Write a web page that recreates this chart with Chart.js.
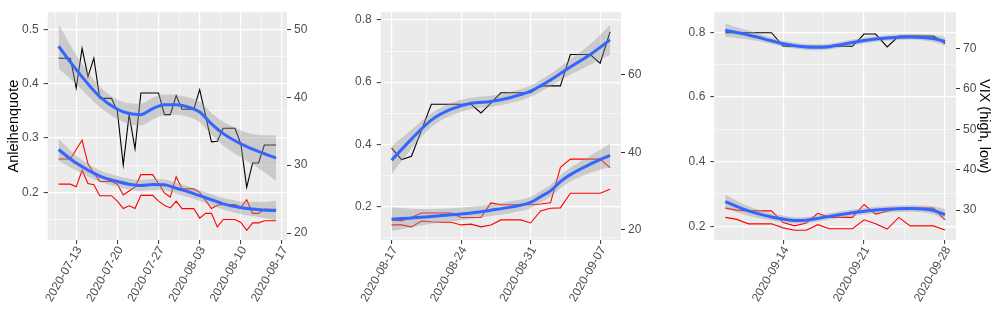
<!DOCTYPE html>
<html>
<head>
<meta charset="utf-8">
<script src="https://cdn.jsdelivr.net/npm/chart.js@4.4.1/dist/chart.umd.min.js"></script>
<style>
  html, body { margin: 0; padding: 0; background: #fff; }
  #wrap { position: relative; width: 1000px; height: 330px; overflow: hidden; }
  canvas { position: absolute; top: 0; }
</style>
</head>
<body>
<div id="wrap">
  <canvas id="p1" width="330" height="330" style="left:0"></canvas>
  <canvas id="p2" width="330" height="330" style="left:330px"></canvas>
  <canvas id="p3" width="340" height="330" style="left:660px"></canvas>
</div>
<script>
// ---- data: daily Anleihenquote (left axis) and VIX high / low (right axis)
const p1Dates = ['2020-07-10','2020-07-11','2020-07-12','2020-07-13','2020-07-14','2020-07-15','2020-07-16','2020-07-17','2020-07-18','2020-07-19',
  '2020-07-20','2020-07-21','2020-07-22','2020-07-23','2020-07-24','2020-07-25','2020-07-26','2020-07-27','2020-07-28','2020-07-29',
  '2020-07-30','2020-07-31','2020-08-01','2020-08-02','2020-08-03','2020-08-04','2020-08-05','2020-08-06','2020-08-07','2020-08-08',
  '2020-08-09','2020-08-10','2020-08-11','2020-08-12','2020-08-13','2020-08-14','2020-08-15','2020-08-16'];
const p1Quote = [0.447,0.447,0.447,0.392,0.465,0.413,0.447,0.373,0.373,0.373,
  0.349,0.250,0.343,0.280,0.383,0.383,0.383,0.383,0.343,0.343,
  0.378,0.353,0.353,0.353,0.389,0.341,0.293,0.294,0.318,0.318,
  0.318,0.289,0.209,0.254,0.254,0.287,0.287,0.287];
const p1VixHigh = [30.9,30.9,30.9,32.3,33.7,30.2,28.8,27.6,27.6,27.6,
  27.2,25.6,26.2,26.8,28.6,28.6,28.6,27.3,25.9,25.3,
  28.3,26.5,26.5,26.5,26.0,24.8,23.6,24.1,24.2,24.2,
  24.2,23.8,24.9,22.9,22.9,23.5,23.5,23.5];
const p1VixLow = [27.2,27.2,27.2,26.8,29.25,27.3,27.1,25.5,25.5,25.5,
  24.7,23.6,24.0,23.6,25.55,25.55,25.55,24.7,24.1,23.7,
  24.7,23.6,23.6,23.6,22.2,22.9,22.9,20.9,22.0,22.0,
  22.0,21.55,20.4,21.5,21.5,21.8,21.8,21.8];

const p2Dates = ['2020-08-17','2020-08-18','2020-08-19','2020-08-20','2020-08-21','2020-08-22','2020-08-23','2020-08-24','2020-08-25','2020-08-26',
  '2020-08-27','2020-08-28','2020-08-29','2020-08-30','2020-08-31','2020-09-01','2020-09-02','2020-09-03','2020-09-04','2020-09-05',
  '2020-09-06','2020-09-07','2020-09-08'];
const p2Quote = [0.388,0.351,0.362,0.445,0.529,0.529,0.529,0.529,0.529,0.501,
  0.533,0.566,0.566,0.566,0.566,0.588,0.588,0.588,0.689,0.689,
  0.689,0.661,0.762];
const p2VixHigh = [22.4,22.3,23.1,24.3,24.3,24.3,24.3,23.1,23.1,23.1,
  26.9,26.4,26.4,26.4,26.4,26.6,26.9,36.1,38.2,38.2,
  38.2,38.2,36.0];
const p2VixLow = [21.2,21.2,20.7,22.2,22.0,21.9,21.9,21.2,21.4,20.7,
  21.2,22.5,22.5,22.5,21.7,24.8,25.5,25.6,29.4,29.4,
  29.4,29.4,30.4];

const p3Dates = ['2020-09-09','2020-09-10','2020-09-11','2020-09-12','2020-09-13','2020-09-14','2020-09-15','2020-09-16','2020-09-17','2020-09-18',
  '2020-09-19','2020-09-20','2020-09-21','2020-09-22','2020-09-23','2020-09-24','2020-09-25','2020-09-26','2020-09-27','2020-09-28'];
const p3Quote = [0.799,0.799,0.799,0.799,0.799,0.757,0.757,0.757,0.757,0.757,
  0.757,0.757,0.795,0.795,0.755,0.789,0.789,0.789,0.789,0.766];
const p3VixHigh = [30.5,30.0,29.8,29.8,29.8,26.9,26.1,26.8,29.2,28.2,
  28.2,28.2,31.4,29.0,29.7,30.5,30.5,30.5,30.5,27.6];
const p3VixLow = [28.2,27.7,26.6,26.6,26.6,25.6,25.0,25.0,26.4,25.4,
  25.4,25.4,27.6,26.6,25.3,28.2,26.1,26.1,26.1,25.1];

// ---- loess fits with standard-error half widths
const p1FitDates = ['2020-07-10','2020-07-13','2020-07-17','2020-07-20','2020-07-22','2020-07-24','2020-07-26','2020-07-28','2020-07-30',
  '2020-08-01','2020-08-03','2020-08-05','2020-08-07','2020-08-09','2020-08-11','2020-08-14','2020-08-16'];
const p1FitQuote = [0.469,0.426,0.376,0.353,0.345,0.343,0.354,0.361,0.361,0.357,0.348,0.326,0.308,0.295,0.284,0.271,0.263];
const p1FitQuoteSe = [0.041,0.027,0.019,0.018,0.019,0.020,0.020,0.019,0.018,0.018,0.019,0.020,0.022,0.024,0.026,0.034,0.042];
const p1FitVix = [32.3,30.3,28.4,27.6,27.2,27.0,27.15,27.1,26.6,26.1,25.5,24.9,24.3,23.9,23.6,23.4,23.3];
const p1FitVixSe = [1.6,1.1,0.85,0.8,0.8,0.8,0.8,0.8,0.8,0.8,0.8,0.8,0.85,0.9,1.0,1.2,1.5];

const p2FitDates = ['2020-08-17','2020-08-19','2020-08-21','2020-08-23','2020-08-25','2020-08-27','2020-08-29','2020-08-31',
  '2020-09-01','2020-09-02','2020-09-03','2020-09-04','2020-09-06','2020-09-08'];
const p2FitQuote = [0.349,0.417,0.478,0.513,0.532,0.538,0.551,0.571,0.588,0.607,0.628,0.649,0.689,0.736];
const p2FitQuoteSe = [0.045,0.030,0.022,0.020,0.018,0.018,0.018,0.018,0.019,0.020,0.022,0.025,0.033,0.048];
const p2FitVix = [22.7,23.0,23.4,23.8,24.3,25.0,25.8,27.0,28.5,30.0,32.4,34.2,36.9,39.2];
const p2FitVixSe = [3.1,2.4,1.9,1.7,1.6,1.5,1.5,1.5,1.5,1.6,1.7,1.8,2.2,3.0];

const p3FitDates = ['2020-09-09','2020-09-11','2020-09-13','2020-09-14','2020-09-15','2020-09-16','2020-09-17','2020-09-18',
  '2020-09-19','2020-09-21','2020-09-23','2020-09-25','2020-09-27','2020-09-28'];
const p3FitQuote = [0.807,0.792,0.774,0.765,0.759,0.755,0.754,0.756,0.762,0.775,0.783,0.786,0.781,0.772];
const p3FitQuoteSe = [0.020,0.014,0.010,0.009,0.009,0.009,0.009,0.009,0.009,0.009,0.009,0.009,0.011,0.014];
const p3FitVix = [32.1,29.8,28.3,27.8,27.45,27.5,27.95,28.45,28.9,29.7,30.2,30.4,29.9,28.9];
const p3FitVixSe = [1.7,1.2,0.9,0.85,0.8,0.8,0.8,0.8,0.8,0.8,0.8,0.8,1.0,1.3];

// ---- tick labels
const p1DateTicks = ['2020-07-13','2020-07-20','2020-07-27','2020-08-03','2020-08-10','2020-08-17'];
const p2DateTicks = ['2020-08-17','2020-08-24','2020-08-31','2020-09-07'];
const p3DateTicks = ['2020-09-14','2020-09-21','2020-09-28'];
const p1QuoteTicks = [0.2, 0.3, 0.4, 0.5];
const p2QuoteTicks = [0.2, 0.4, 0.6, 0.8];
const p3QuoteTicks = [0.2, 0.4, 0.6, 0.8];
const p1VixTicks = [20, 30, 40, 50];
const p2VixTicks = [20, 40, 60];
const p3VixTicks = [30, 40, 50, 60, 70];

// ---- helpers
const FONT = "'Liberation Sans', Arial, Helvetica, sans-serif";
const DAY = 86400000;
const toDay = s => Date.UTC(+s.slice(0, 4), +s.slice(5, 7) - 1, +s.slice(8, 10)) / DAY;
const fmtDay = d => new Date(Math.round(d) * DAY).toISOString().slice(0, 10);
const pts = (dates, vals) => dates.map((d, i) => ({ x: toDay(d), y: vals[i] }));
const edge = (dates, fit, se, sign) => dates.map((d, i) => ({ x: toDay(d), y: fit[i] + sign * se[i] }));

// major ticks plus the ggplot-style minor ticks halfway between them
function withMinor(major, min, max) {
  const step = major[1] - major[0];
  const out = [];
  major.forEach(v => {
    if (v - step / 2 >= min) out.push({ value: v - step / 2, minor: true });
    out.push({ value: v });
  });
  const last = major[major.length - 1] + step / 2;
  if (last <= max) out.push({ value: last, minor: true });
  return out;
}

const isMinor = c => !!(c.tick && c.tick.minor);
const gridMain = {
  color: '#FFFFFF',
  lineWidth: c => isMinor(c) ? 0.55 : 1.2,
  tickColor: c => isMinor(c) ? 'rgba(0,0,0,0)' : '#333333',
  tickWidth: 1,
  tickLength: 4
};
const tickFont = { family: FONT, size: 12 };
const titleFont = { family: FONT, size: 14.5 };

const panelBg = {
  id: 'panelBg',
  beforeDraw(chart) {
    const { ctx, chartArea: a } = chart;
    ctx.save();
    ctx.fillStyle = '#EBEBEB';
    ctx.fillRect(a.left, a.top, a.right - a.left, a.bottom - a.top);
    ctx.restore();
  }
};

function drawPanel(id, p) {
  const xMin = toDay(p.dates[0]), xMax = toDay(p.dates[p.dates.length - 1]);
  const pad = (xMax - xMin) * 0.05;
  const band = 'rgba(153,153,153,0.4)';
  const none = 'rgba(0,0,0,0)';

  new Chart(document.getElementById(id), {
    type: 'line',
    data: {
      datasets: [
        // fitted curves on top
        { data: pts(p.fitDates, p.fitQuote), yAxisID: 'y', borderColor: '#3366FF', borderWidth: 3, cubicInterpolationMode: 'monotone' },
        { data: pts(p.fitDates, p.fitVix), yAxisID: 'y2', borderColor: '#3366FF', borderWidth: 3, cubicInterpolationMode: 'monotone' },
        // confidence bands
        { data: edge(p.fitDates, p.fitQuote, p.fitQuoteSe, 1), yAxisID: 'y', borderColor: none, borderWidth: 0, cubicInterpolationMode: 'monotone', fill: false },
        { data: edge(p.fitDates, p.fitQuote, p.fitQuoteSe, -1), yAxisID: 'y', borderColor: none, borderWidth: 0, cubicInterpolationMode: 'monotone', fill: '-1', backgroundColor: band },
        { data: edge(p.fitDates, p.fitVix, p.fitVixSe, 1), yAxisID: 'y2', borderColor: none, borderWidth: 0, cubicInterpolationMode: 'monotone', fill: false },
        { data: edge(p.fitDates, p.fitVix, p.fitVixSe, -1), yAxisID: 'y2', borderColor: none, borderWidth: 0, cubicInterpolationMode: 'monotone', fill: '-1', backgroundColor: band },
        // raw series
        { data: pts(p.dates, p.quote), yAxisID: 'y', borderColor: '#000000', borderWidth: 1.1 },
        { data: pts(p.dates, p.vixHigh), yAxisID: 'y2', borderColor: '#FF0000', borderWidth: 1.1 },
        { data: pts(p.dates, p.vixLow), yAxisID: 'y2', borderColor: '#FF0000', borderWidth: 1.1 }
      ]
    },
    options: {
      responsive: false,
      animation: false,
      events: [],
      layout: { padding: { top: 7, left: 0, right: 0, bottom: 0 } },
      elements: { point: { radius: 0 }, line: { tension: 0, fill: false } },
      plugins: { legend: { display: false }, tooltip: { enabled: false } },
      scales: {
        x: {
          type: 'linear',
          min: xMin - pad,
          max: xMax + pad,
          afterBuildTicks: s => {
            s.ticks = withMinor(p.dateTicks.map(toDay), xMin - pad, xMax + pad);
          },
          afterFit: s => { s.height = 90; },
          grid: gridMain,
          border: { display: false },
          ticks: {
            autoSkip: false,
            minRotation: 60,
            maxRotation: 60,
            padding: 0,
            labelOffset: 3,
            color: '#4D4D4D',
            font: tickFont,
            callback: (v, i, t) => t[i].minor ? '' : fmtDay(v)
          }
        },
        y: {
          type: 'linear',
          position: 'left',
          min: p.yMin,
          max: p.yMax,
          afterBuildTicks: s => { s.ticks = withMinor(p.quoteTicks, p.yMin, p.yMax); },
          afterFit: s => { s.width = p.leftWidth; },
          grid: gridMain,
          border: { display: false },
          ticks: {
            autoSkip: false,
            padding: 5,
            color: '#4D4D4D',
            font: tickFont,
            callback: (v, i, t) => t[i].minor ? '' : v.toFixed(1)
          },
          title: {
            display: !!p.leftTitle,
            text: p.leftTitle || '',
            color: '#000000',
            font: titleFont,
            padding: { top: 5, bottom: 0 }
          }
        },
        y2: {
          type: 'linear',
          position: 'right',
          min: p.vMin,
          max: p.vMax,
          afterBuildTicks: s => { s.ticks = p.vixTicks.map(v => ({ value: v })); },
          afterFit: s => { s.width = p.rightWidth; },
          grid: { drawOnChartArea: false, tickColor: '#333333', tickWidth: 1, tickLength: 4 },
          border: { display: false },
          ticks: {
            autoSkip: false,
            padding: 3,
            color: '#4D4D4D',
            font: tickFont,
            callback: v => String(v)
          },
          title: {
            display: !!p.rightTitle,
            text: p.rightTitle || '',
            color: '#000000',
            font: titleFont,
            padding: { top: 7, bottom: 0 }
          }
        }
      }
    },
    plugins: [panelBg]
  });
}

drawPanel('p1', {
  dates: p1Dates, quote: p1Quote, vixHigh: p1VixHigh, vixLow: p1VixLow,
  fitDates: p1FitDates, fitQuote: p1FitQuote, fitQuoteSe: p1FitQuoteSe, fitVix: p1FitVix, fitVixSe: p1FitVixSe,
  dateTicks: p1DateTicks, quoteTicks: p1QuoteTicks, vixTicks: p1VixTicks,
  yMin: 0.1121, yMax: 0.5317, vMin: 18.97, vMax: 52.54,
  leftWidth: 47.7, rightWidth: 43, leftTitle: 'Anleihenquote'
});
drawPanel('p2', {
  dates: p2Dates, quote: p2Quote, vixHigh: p2VixHigh, vixLow: p2VixLow,
  fitDates: p2FitDates, fitQuote: p2FitQuote, fitQuoteSe: p2FitQuoteSe, fitVix: p2FitVix, fitVixSe: p2FitVixSe,
  dateTicks: p2DateTicks, quoteTicks: p2QuoteTicks, vixTicks: p2VixTicks,
  yMin: 0.0926, yMax: 0.825, vMin: 17.3, vMax: 76.2,
  leftWidth: 50.7, rightWidth: 39
});
drawPanel('p3', {
  dates: p3Dates, quote: p3Quote, vixHigh: p3VixHigh, vixLow: p3VixLow,
  fitDates: p3FitDates, fitQuote: p3FitQuote, fitQuoteSe: p3FitQuoteSe, fitVix: p3FitVix, fitVixSe: p3FitVixSe,
  dateTicks: p3DateTicks, quoteTicks: p3QuoteTicks, vixTicks: p3VixTicks,
  yMin: 0.1576, yMax: 0.8626, vMin: 22.6, vMax: 79.0,
  leftWidth: 54.3, rightWidth: 44, rightTitle: 'VIX (high, low)'
});
</script>
</body>
</html>
